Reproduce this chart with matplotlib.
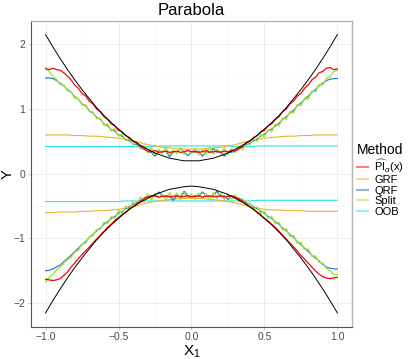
import numpy as np
import matplotlib
matplotlib.use('Agg')
import matplotlib.pyplot as plt
from matplotlib.lines import Line2D

plt.rcParams['font.family'] = ['Liberation Sans', 'DejaVu Sans']
plt.rcParams['mathtext.fontset'] = 'custom'
plt.rcParams['mathtext.rm'] = 'Liberation Sans'
plt.rcParams['mathtext.it'] = 'Liberation Sans:italic'

# fine grid (step 0.025) for the noisy bands
x_fine = np.linspace(-1, 1, 81)
# coarse grid (step 0.05) for the smooth curves
x_coarse = np.linspace(-1, 1, 41)

# true band (black)
true_up = [2.15, 1.96, 1.78, 1.61, 1.45, 1.30, 1.16, 1.02, 0.90, 0.79, 0.69, 0.59, 0.51, 0.44, 0.38, 0.32, 0.28, 0.24, 0.22, 0.20, 0.20,
           0.20, 0.22, 0.24, 0.28, 0.32, 0.38, 0.44, 0.51, 0.59, 0.69, 0.79, 0.90, 1.02, 1.16, 1.30, 1.45, 1.61, 1.78, 1.96, 2.15]
true_lo = [-2.15, -1.96, -1.78, -1.61, -1.45, -1.30, -1.16, -1.02, -0.90, -0.79, -0.69, -0.59, -0.51, -0.44, -0.38, -0.32, -0.28, -0.24, -0.22, -0.20, -0.19,
           -0.20, -0.22, -0.24, -0.28, -0.32, -0.38, -0.44, -0.51, -0.59, -0.69, -0.79, -0.90, -1.02, -1.16, -1.30, -1.45, -1.61, -1.78, -1.96, -2.15]

# PI_alpha (red)
pi_up = [1.62, 1.61, 1.63, 1.61, 1.60, 1.56, 1.51, 1.45, 1.37, 1.32, 1.24, 1.20, 1.12, 1.08, 1.00, 0.96, 0.88, 0.84, 0.77, 0.74,
         0.67, 0.65, 0.59, 0.56, 0.50, 0.48, 0.42, 0.39, 0.35, 0.34, 0.36, 0.33, 0.34, 0.35, 0.33, 0.34, 0.35, 0.33, 0.34, 0.36, 0.34,
         0.35, 0.33, 0.34, 0.36, 0.33, 0.34, 0.35, 0.33, 0.35, 0.34, 0.36, 0.35, 0.39, 0.42, 0.48, 0.50, 0.56, 0.59, 0.65, 0.67,
         0.74, 0.77, 0.84, 0.88, 0.96, 1.00, 1.08, 1.12, 1.20, 1.24, 1.32, 1.37, 1.45, 1.49, 1.56, 1.58, 1.63, 1.64, 1.61, 1.62]
pi_lo = [-1.63, -1.64, -1.65, -1.64, -1.62, -1.57, -1.52, -1.44, -1.38, -1.31, -1.25, -1.19, -1.13, -1.07, -1.01, -0.95, -0.89, -0.83, -0.78, -0.72,
         -0.68, -0.63, -0.60, -0.54, -0.51, -0.46, -0.43, -0.38, -0.36, -0.35, -0.34, -0.36, -0.35, -0.34, -0.36, -0.35, -0.34, -0.36, -0.35, -0.34, -0.36,
         -0.35, -0.34, -0.36, -0.35, -0.34, -0.36, -0.35, -0.34, -0.36, -0.35, -0.34, -0.36, -0.39, -0.42, -0.47, -0.51, -0.55, -0.60, -0.64, -0.69,
         -0.73, -0.78, -0.83, -0.89, -0.95, -1.01, -1.07, -1.13, -1.19, -1.26, -1.32, -1.38, -1.44, -1.50, -1.55, -1.59, -1.61, -1.62, -1.61, -1.60]

# GRF (orange)
grf_up = [0.60, 0.60, 0.60, 0.60, 0.59, 0.59, 0.58, 0.58, 0.57, 0.56, 0.55, 0.53, 0.51, 0.48, 0.45, 0.43, 0.41, 0.40, 0.39, 0.38, 0.38,
          0.38, 0.39, 0.40, 0.41, 0.43, 0.45, 0.48, 0.51, 0.53, 0.55, 0.56, 0.57, 0.58, 0.58, 0.59, 0.59, 0.60, 0.60, 0.60, 0.60]
grf_lo = [-0.60, -0.60, -0.59, -0.59, -0.59, -0.58, -0.58, -0.57, -0.57, -0.56, -0.55, -0.53, -0.51, -0.48, -0.45, -0.43, -0.41, -0.40, -0.39, -0.38, -0.38,
          -0.38, -0.39, -0.40, -0.41, -0.43, -0.45, -0.48, -0.51, -0.53, -0.55, -0.56, -0.56, -0.57, -0.57, -0.57, -0.58, -0.58, -0.58, -0.58, -0.58]

# QRF (blue)
qrf_up = [1.48, 1.48, 1.47, 1.44, 1.40, 1.36, 1.30, 1.26, 1.19, 1.15, 1.08, 1.05, 0.97, 0.94, 0.87, 0.84, 0.77, 0.74, 0.68, 0.66,
          0.60, 0.58, 0.53, 0.51, 0.46, 0.45, 0.40, 0.38, 0.34, 0.33, 0.27, 0.34, 0.33, 0.35, 0.26, 0.34, 0.33, 0.39, 0.33, 0.28, 0.34,
          0.33, 0.35, 0.27, 0.34, 0.33, 0.39, 0.33, 0.34, 0.27, 0.34, 0.33, 0.35, 0.38, 0.41, 0.45, 0.47, 0.51, 0.54, 0.58, 0.61,
          0.66, 0.69, 0.74, 0.78, 0.84, 0.88, 0.94, 0.98, 1.05, 1.09, 1.15, 1.20, 1.26, 1.30, 1.36, 1.40, 1.44, 1.46, 1.47, 1.47]
qrf_lo = [-1.50, -1.49, -1.47, -1.44, -1.41, -1.36, -1.31, -1.26, -1.20, -1.15, -1.09, -1.05, -0.98, -0.94, -0.88, -0.84, -0.78, -0.74, -0.69, -0.66,
          -0.61, -0.58, -0.54, -0.51, -0.47, -0.45, -0.41, -0.38, -0.35, -0.34, -0.35, -0.28, -0.34, -0.35, -0.34, -0.41, -0.34, -0.35, -0.27, -0.34, -0.35,
          -0.34, -0.35, -0.28, -0.34, -0.35, -0.34, -0.27, -0.35, -0.34, -0.40, -0.34, -0.36, -0.38, -0.41, -0.45, -0.47, -0.51, -0.54, -0.58, -0.61,
          -0.66, -0.69, -0.74, -0.78, -0.84, -0.88, -0.94, -0.98, -1.05, -1.09, -1.15, -1.20, -1.26, -1.30, -1.35, -1.40, -1.44, -1.46, -1.47, -1.47]

# Split (green)
split_up = [1.64, 1.58, 1.50, 1.46, 1.38, 1.37, 1.28, 1.27, 1.17, 1.16, 1.06, 1.07, 0.96, 0.96, 0.85, 0.86, 0.75, 0.77, 0.66, 0.70,
            0.58, 0.62, 0.51, 0.56, 0.44, 0.50, 0.38, 0.44, 0.32, 0.40, 0.30, 0.38, 0.31, 0.41, 0.29, 0.37, 0.31, 0.40, 0.30, 0.37, 0.31,
            0.39, 0.29, 0.37, 0.30, 0.41, 0.30, 0.38, 0.31, 0.40, 0.30, 0.39, 0.33, 0.42, 0.37, 0.48, 0.44, 0.54, 0.50, 0.61, 0.57,
            0.68, 0.65, 0.77, 0.74, 0.86, 0.84, 0.96, 0.94, 1.07, 1.05, 1.17, 1.15, 1.28, 1.26, 1.38, 1.37, 1.47, 1.50, 1.58, 1.60]
split_lo = [-1.67, -1.60, -1.55, -1.49, -1.44, -1.38, -1.33, -1.29, -1.21, -1.18, -1.09, -1.07, -0.97, -0.96, -0.86, -0.86, -0.75, -0.77, -0.66, -0.69,
            -0.57, -0.62, -0.50, -0.55, -0.43, -0.49, -0.36, -0.44, -0.31, -0.40, -0.30, -0.38, -0.31, -0.41, -0.29, -0.37, -0.30, -0.40, -0.29, -0.38, -0.31,
            -0.40, -0.30, -0.38, -0.31, -0.41, -0.29, -0.38, -0.30, -0.40, -0.31, -0.39, -0.33, -0.43, -0.38, -0.49, -0.45, -0.55, -0.51, -0.62, -0.58,
            -0.69, -0.66, -0.77, -0.75, -0.87, -0.85, -0.97, -0.95, -1.07, -1.06, -1.17, -1.16, -1.27, -1.27, -1.37, -1.38, -1.46, -1.50, -1.55, -1.56]

# OOB (cyan)
oob_up = [0.42, 0.42, 0.42, 0.42, 0.42, 0.42, 0.42, 0.42, 0.42, 0.42, 0.42, 0.42, 0.42, 0.42, 0.42, 0.42, 0.43, 0.43, 0.43, 0.43, 0.43,
          0.43, 0.43, 0.43, 0.43, 0.43, 0.42, 0.42, 0.42, 0.43, 0.43, 0.43, 0.43, 0.43, 0.43, 0.43, 0.43, 0.43, 0.43, 0.43, 0.43]
oob_lo = [-0.43, -0.43, -0.43, -0.43, -0.43, -0.43, -0.43, -0.43, -0.43, -0.43, -0.43, -0.42, -0.42, -0.42, -0.42, -0.42, -0.42, -0.42, -0.42, -0.42, -0.42,
          -0.42, -0.42, -0.42, -0.42, -0.42, -0.42, -0.42, -0.42, -0.41, -0.41, -0.41, -0.41, -0.41, -0.41, -0.41, -0.41, -0.41, -0.41, -0.41, -0.41]

methods = [r'$\widehat{\mathrm{PI}}_{\alpha}\mathrm{(x)}$', 'GRF', 'QRF', 'Split', 'OOB']
colors = ['#FF0000', '#F0B030', '#1874CD', '#A6E22E', '#22E5F0']

fig = plt.figure(figsize=(4.12, 3.59), dpi=100)
ax = fig.add_axes([0.0752, 0.0905, 0.779, 0.851])

ax.plot(x_coarse, oob_up, color=colors[4], lw=0.8)
ax.plot(x_coarse, oob_lo, color=colors[4], lw=0.8)
ax.plot(x_coarse, grf_up, color=colors[1], lw=0.8)
ax.plot(x_coarse, grf_lo, color=colors[1], lw=0.8)
ax.plot(x_fine, qrf_up, color=colors[2], lw=0.8)
ax.plot(x_fine, qrf_lo, color=colors[2], lw=0.8)
ax.plot(x_fine, split_up, color=colors[3], lw=1.0)
ax.plot(x_fine, split_lo, color=colors[3], lw=1.0)
ax.plot(x_fine, pi_up, color=colors[0], lw=0.9)
ax.plot(x_fine, pi_lo, color=colors[0], lw=0.9)
ax.plot(x_coarse, true_up, color='black', lw=0.7)
ax.plot(x_coarse, true_lo, color='black', lw=0.7)

ax.set_xlim(-1.1, 1.1)
ax.set_ylim(-2.36, 2.36)
ax.set_xticks([-1.0, -0.5, 0.0, 0.5, 1.0])
ax.set_xticklabels(['\u22121.0', '\u22120.5', '0.0', '0.5', '1.0'])
ax.set_yticks([-2, -1, 0, 1, 2])
ax.set_yticklabels(['\u22122', '\u22121', '0', '1', '2'])
ax.set_xticks([-0.75, -0.25, 0.25, 0.75], minor=True)
ax.set_yticks([-1.5, -0.5, 0.5, 1.5], minor=True)
ax.grid(which='major', color='#EBEBEB', lw=0.6)
ax.grid(which='minor', color='#F5F5F5', lw=0.4)
ax.set_axisbelow(True)
ax.tick_params(which='major', length=2.5, width=0.5, color='#B3B3B3',
               labelsize=7.5, labelcolor='#4D4D4D', pad=1.5)
ax.tick_params(which='minor', length=0)
for s in ['left', 'bottom']:
    ax.spines[s].set_color('#555555')
    ax.spines[s].set_linewidth(0.8)
for s in ['top', 'right']:
    ax.spines[s].set_color('#B3B3B3')
    ax.spines[s].set_linewidth(1.0)

ax.set_title('Parabola', fontsize=12, pad=4)
ax.set_xlabel('X$_1$', fontsize=11, labelpad=1)
ax.set_ylabel('Y', fontsize=10.5, va='center')
ax.yaxis.set_label_coords(-0.072, 0.5)

handles = [Line2D([0], [0], color=c, lw=1.5, alpha=0.5) for c in colors]
leg = fig.legend(handles, methods, title='Method', loc='upper left',
                 bbox_to_anchor=(0.855, 0.615), frameon=False, fontsize=8,
                 title_fontsize=10, handlelength=1.0, handletextpad=0.6,
                 labelspacing=0.05, borderaxespad=0.0)
leg._legend_box.align = 'left'

fig.savefig('out.png', dpi=100)
